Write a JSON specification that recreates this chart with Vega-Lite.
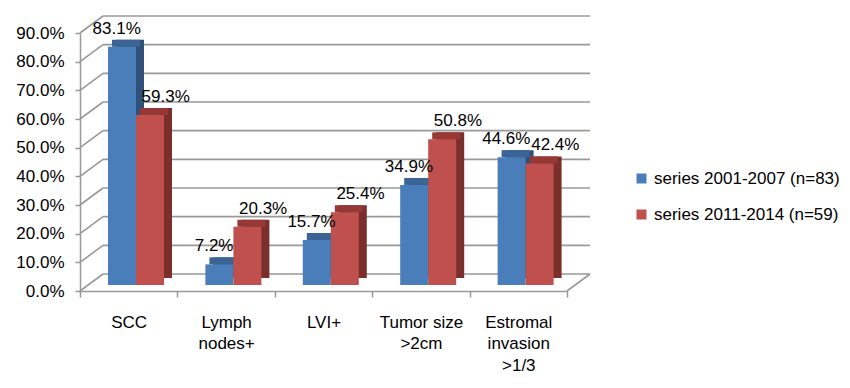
{
  "$schema": "https://vega.github.io/schema/vega-lite/v6.json",
  "width": 487,
  "height": 258,
  "autosize": {"type": "none"},
  "padding": {"left": 80, "top": 33, "right": 283, "bottom": 97},
  "datasets": {
    "bars": [
      {"category": "SCC", "series": "series 2001-2007 (n=83)", "value": 0.831},
      {"category": "SCC", "series": "series 2011-2014 (n=59)", "value": 0.593},
      {"category": "Lymph nodes+", "series": "series 2001-2007 (n=83)", "value": 0.072},
      {"category": "Lymph nodes+", "series": "series 2011-2014 (n=59)", "value": 0.203},
      {"category": "LVI+", "series": "series 2001-2007 (n=83)", "value": 0.157},
      {"category": "LVI+", "series": "series 2011-2014 (n=59)", "value": 0.254},
      {"category": "Tumor size >2cm", "series": "series 2001-2007 (n=83)", "value": 0.349},
      {"category": "Tumor size >2cm", "series": "series 2011-2014 (n=59)", "value": 0.508},
      {"category": "Estromal invasion >1/3", "series": "series 2001-2007 (n=83)", "value": 0.446},
      {"category": "Estromal invasion >1/3", "series": "series 2011-2014 (n=59)", "value": 0.424}
    ],
    "levels": [
      {"level": 0}, {"level": 0.1}, {"level": 0.2}, {"level": 0.3}, {"level": 0.4},
      {"level": 0.5}, {"level": 0.6}, {"level": 0.7}, {"level": 0.8}, {"level": 0.9}
    ]
  },
  "config": {
    "view": {"stroke": null},
    "font": "Liberation Sans",
    "axis": {
      "labelFont": "Liberation Sans",
      "labelFontSize": 17,
      "labelColor": "#000000",
      "domainColor": "#999999",
      "tickColor": "#999999",
      "domainWidth": 1.5,
      "tickWidth": 1.5,
      "grid": false,
      "title": null
    },
    "axisY": {"labelOverlap": false, "labelBound": false, "labelFlush": false, "tickCount": 10}
  },
  "resolve": {"scale": {"x": "independent"}, "axis": {"x": "independent"}},
  "layer": [
    {
      "data": {"name": "levels"},
      "mark": {"type": "rect", "color": "#999999", "xOffset": 23, "x2Offset": 23, "yOffset": -17.8, "y2Offset": -16.2},
      "encoding": {
        "x": {"datum": 0, "type": "quantitative", "scale": {"domain": [0, 1], "nice": false}, "axis": null},
        "x2": {"datum": 1},
        "y": {
          "field": "level", "type": "quantitative",
          "scale": {"domain": [0, 0.9], "nice": false, "zero": true},
          "axis": {"values": [0, 0.1, 0.2, 0.3, 0.4, 0.5, 0.6, 0.7, 0.8, 0.9], "tickCount": 10, "format": ".1%", "tickSize": 5, "labelPadding": 11, "labelOverlap": false, "title": null}
        },
        "y2": {"field": "level"}
      }
    },
    {
      "data": {"name": "levels"},
      "mark": {"type": "rule", "color": "#999999", "strokeWidth": 1.6, "x2Offset": 23, "y2Offset": -17},
      "encoding": {
        "x": {"datum": 0, "type": "quantitative", "scale": {"domain": [0, 1], "nice": false}, "axis": null},
        "x2": {"datum": 0},
        "y": {"field": "level", "type": "quantitative"},
        "y2": {"field": "level"}
      }
    },
    {
      "data": {"name": "levels"},
      "transform": [{"filter": "datum.level == 0"}],
      "mark": {"type": "rule", "color": "#999999", "strokeWidth": 1.6, "x2Offset": 23, "y2Offset": -17},
      "encoding": {
        "x": {"datum": 1, "type": "quantitative", "scale": {"domain": [0, 1], "nice": false}, "axis": null},
        "x2": {"datum": 1},
        "y": {"field": "level", "type": "quantitative"},
        "y2": {"field": "level"}
      }
    },
    {
      "data": {"name": "bars"},
      "transform": [{"filter": "datum.series == 'series 2001-2007 (n=83)'"}],
      "mark": {"type": "bar", "width": 28, "color": "#2f5078", "xOffset": 1.3, "yOffset": -13, "y2Offset": -13},
      "encoding": {
        "x": {"field": "category", "type": "nominal", "scale": {"type": "band", "domain": ["SCC", "Lymph nodes+", "LVI+", "Tumor size >2cm", "Estromal invasion >1/3"], "paddingInner": 0, "paddingOuter": 0}, "axis": null},
        "y": {"field": "value", "type": "quantitative"},
        "y2": {"datum": 0}
      }
    },
    {
      "data": {"name": "bars"},
      "transform": [{"filter": "datum.series == 'series 2001-2007 (n=83)'"}],
      "mark": {"type": "bar", "width": 28, "color": "#3b6495", "xOffset": -2.7, "yOffset": -13, "y2Offset": -6},
      "encoding": {
        "x": {"field": "category", "type": "nominal", "scale": {"type": "band", "domain": ["SCC", "Lymph nodes+", "LVI+", "Tumor size >2cm", "Estromal invasion >1/3"], "paddingInner": 0, "paddingOuter": 0}, "axis": null},
        "y": {"field": "value", "type": "quantitative"},
        "y2": {"field": "value"}
      }
    },
    {
      "data": {"name": "bars"},
      "transform": [{"filter": "datum.series == 'series 2001-2007 (n=83)'"}],
      "mark": {"type": "bar", "width": 28, "xOffset": -6.7, "yOffset": -6, "y2Offset": -6},
      "encoding": {
        "x": {
          "field": "category", "type": "nominal",
          "scale": {"type": "band", "domain": ["SCC", "Lymph nodes+", "LVI+", "Tumor size >2cm", "Estromal invasion >1/3"], "paddingInner": 0, "paddingOuter": 0},
          "axis": {
            "labelAngle": 0, "labelAlign": "center", "tickBand": "extent", "tickSize": 6, "labelPadding": 17,
            "labelLineHeight": 21.5, "labelOverlap": false, "labelBound": false, "labelFlush": false,
            "labelExpr": "isValid(datum.value) ? (datum.value == 'Tumor size >2cm' ? ['Tumor size', '>2cm'] : split(datum.value, ' ')) : ''",
            "title": null
          }
        },
        "y": {"field": "value", "type": "quantitative"},
        "y2": {"datum": 0},
        "color": {
          "field": "series", "type": "nominal",
          "scale": {"domain": ["series 2001-2007 (n=83)", "series 2011-2014 (n=59)"], "range": ["#4a7ebb", "#c0504d"]},
          "legend": {
            "title": null, "orient": "none", "legendX": 553, "legendY": 137,
            "symbolType": "square", "symbolSize": 100, "symbolStrokeWidth": 0,
            "labelFontSize": 17, "labelFont": "Liberation Sans", "labelColor": "#000000",
            "labelOffset": 4, "rowPadding": 18, "labelLimit": 300
          }
        }
      }
    },
    {
      "data": {"name": "bars"},
      "transform": [{"filter": "datum.series == 'series 2011-2014 (n=59)'"}],
      "mark": {"type": "bar", "width": 28, "color": "#7b2f2d", "xOffset": 29.3, "yOffset": -13, "y2Offset": -13},
      "encoding": {
        "x": {"field": "category", "type": "nominal", "scale": {"type": "band", "domain": ["SCC", "Lymph nodes+", "LVI+", "Tumor size >2cm", "Estromal invasion >1/3"], "paddingInner": 0, "paddingOuter": 0}, "axis": null},
        "y": {"field": "value", "type": "quantitative"},
        "y2": {"datum": 0}
      }
    },
    {
      "data": {"name": "bars"},
      "transform": [{"filter": "datum.series == 'series 2011-2014 (n=59)'"}],
      "mark": {"type": "bar", "width": 28, "color": "#963836", "xOffset": 25.3, "yOffset": -13, "y2Offset": -6},
      "encoding": {
        "x": {"field": "category", "type": "nominal", "scale": {"type": "band", "domain": ["SCC", "Lymph nodes+", "LVI+", "Tumor size >2cm", "Estromal invasion >1/3"], "paddingInner": 0, "paddingOuter": 0}, "axis": null},
        "y": {"field": "value", "type": "quantitative"},
        "y2": {"field": "value"}
      }
    },
    {
      "data": {"name": "bars"},
      "transform": [{"filter": "datum.series == 'series 2011-2014 (n=59)'"}],
      "mark": {"type": "bar", "width": 28, "xOffset": 21.3, "yOffset": -6, "y2Offset": -6},
      "encoding": {
        "x": {"field": "category", "type": "nominal", "scale": {"type": "band", "domain": ["SCC", "Lymph nodes+", "LVI+", "Tumor size >2cm", "Estromal invasion >1/3"], "paddingInner": 0, "paddingOuter": 0}, "axis": null},
        "y": {"field": "value", "type": "quantitative"},
        "y2": {"datum": 0},
        "color": {"field": "series", "type": "nominal"}
      }
    },
    {
      "data": {"name": "bars"},
      "transform": [{"filter": "datum.series == 'series 2001-2007 (n=83)'"}],
      "mark": {"type": "text", "fontSize": 17, "font": "Liberation Sans", "color": "#000000", "baseline": "middle", "xOffset": -12, "yOffset": -24},
      "encoding": {
        "x": {"field": "category", "type": "nominal", "scale": {"type": "band", "domain": ["SCC", "Lymph nodes+", "LVI+", "Tumor size >2cm", "Estromal invasion >1/3"], "paddingInner": 0, "paddingOuter": 0}, "axis": null},
        "y": {"field": "value", "type": "quantitative"},
        "text": {"field": "value", "type": "quantitative", "format": ".1%"}
      }
    },
    {
      "data": {"name": "bars"},
      "transform": [{"filter": "datum.series == 'series 2011-2014 (n=59)'"}],
      "mark": {"type": "text", "fontSize": 17, "font": "Liberation Sans", "color": "#000000", "baseline": "middle", "xOffset": 37, "yOffset": -24},
      "encoding": {
        "x": {"field": "category", "type": "nominal", "scale": {"type": "band", "domain": ["SCC", "Lymph nodes+", "LVI+", "Tumor size >2cm", "Estromal invasion >1/3"], "paddingInner": 0, "paddingOuter": 0}, "axis": null},
        "y": {"field": "value", "type": "quantitative"},
        "text": {"field": "value", "type": "quantitative", "format": ".1%"}
      }
    }
  ]
}
